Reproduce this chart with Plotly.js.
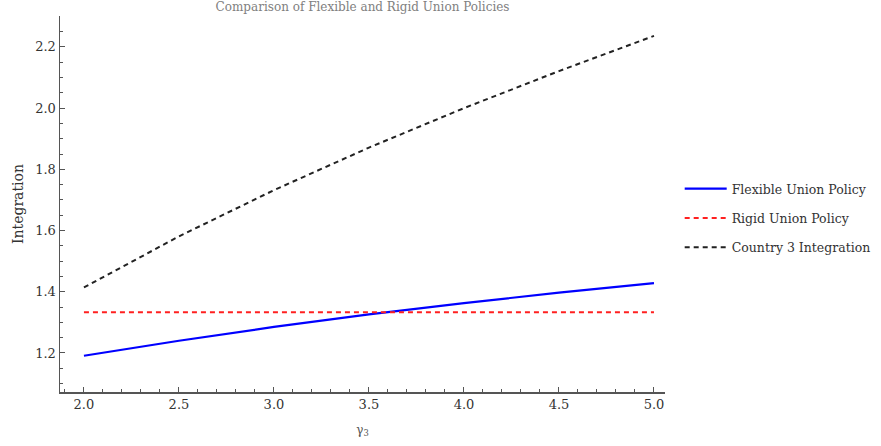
<!DOCTYPE html>
<html>
<head>
<meta charset="utf-8">
<script src="https://cdn.plot.ly/plotly-3.0.1.min.js"></script>
<style>html,body{margin:0;padding:0;background:#fff;}#chart{width:881px;height:446px;}</style>
</head>
<body>
<div id="chart"></div>
<script>
// gamma_3 values (x axis)
const gamma3 = [2.0, 2.5, 3.0, 3.5, 4.0, 4.5, 5.0];
// Flexible Union Policy integration
const flexible = [1.191, 1.240, 1.285, 1.326, 1.363, 1.397, 1.428];
// Rigid Union Policy integration (constant)
const rigid = [1.333, 1.333, 1.333, 1.333, 1.333, 1.333, 1.333];
// Country 3 integration
const country3 = [1.414, 1.581, 1.732, 1.871, 2.0, 2.121, 2.236];

const seriesNames = ["Flexible Union Policy", "Rigid Union Policy", "Country 3 Integration"];
const xTicks = [2.0, 2.5, 3.0, 3.5, 4.0, 4.5, 5.0];
const xTickText = ["2.0", "2.5", "3.0", "3.5", "4.0", "4.5", "5.0"];
const yTicks = [1.2, 1.4, 1.6, 1.8, 2.0, 2.2];
const yTickText = ["1.2", "1.4", "1.6", "1.8", "2.0", "2.2"];

const serif = "DejaVu Serif, serif";

const traces = [
  {x: gamma3, y: flexible, name: seriesNames[0], legendgroup: "a", mode: "lines", line: {color: "#0000ff", width: 2.2}},
  {x: gamma3, y: rigid, name: seriesNames[1], legendgroup: "b", mode: "lines", line: {color: "#ff2020", width: 2, dash: "5px,4px"}},
  {x: gamma3, y: country3, name: seriesNames[2], legendgroup: "c", mode: "lines", line: {color: "#222222", width: 2, dash: "5px,4px"}}
];

const axisCommon = {
  showgrid: false, zeroline: false, showline: true,
  linecolor: "#555", linewidth: 1.5,
  ticks: "inside", ticklen: 5, tickwidth: 1, tickcolor: "#555",
  tickfont: {family: serif, size: 13, color: "#333"},
  tickmode: "array"
};

const layout = {
  width: 881, height: 446,
  margin: {l: 60, r: 216, t: 16, b: 54, pad: 0},
  paper_bgcolor: "#fff", plot_bgcolor: "#fff",
  title: {text: "Comparison of Flexible and Rigid Union Policies", font: {family: serif, size: 12, color: "#808080"},
          x: 0.4115, xanchor: "center", y: 0.985, yanchor: "middle"},
  xaxis: Object.assign({}, axisCommon, {
    range: [1.874, 5.058], tickvals: xTicks, ticktext: xTickText,
    minor: {dtick: 0.1, tick0: 2.0, ticks: "inside", ticklen: 3, tickcolor: "#555", tickwidth: 1},
    title: {text: "γ<sub>3</sub>", font: {family: serif, size: 12, color: "#555"}, standoff: 14}
  }),
  yaxis: Object.assign({}, axisCommon, {
    range: [1.0725, 2.301], tickvals: yTicks, ticktext: yTickText,
    minor: {dtick: 0.05, tick0: 1.2, ticks: "inside", ticklen: 3, tickcolor: "#555", tickwidth: 1},
    title: {text: "Integration", font: {family: serif, size: 14, color: "#333"}, standoff: 8}
  }),
  showlegend: true,
  legend: {xref: "container", yref: "container", x: 0.7715, xanchor: "left", y: 0.511, yanchor: "middle",
           font: {family: serif, size: 12.5, color: "#333"}, tracegroupgap: 10,
           itemwidth: 42, bgcolor: "rgba(0,0,0,0)"}
};

Plotly.newPlot("chart", traces, layout, {displayModeBar: false, staticPlot: true});
</script>
</body>
</html>
